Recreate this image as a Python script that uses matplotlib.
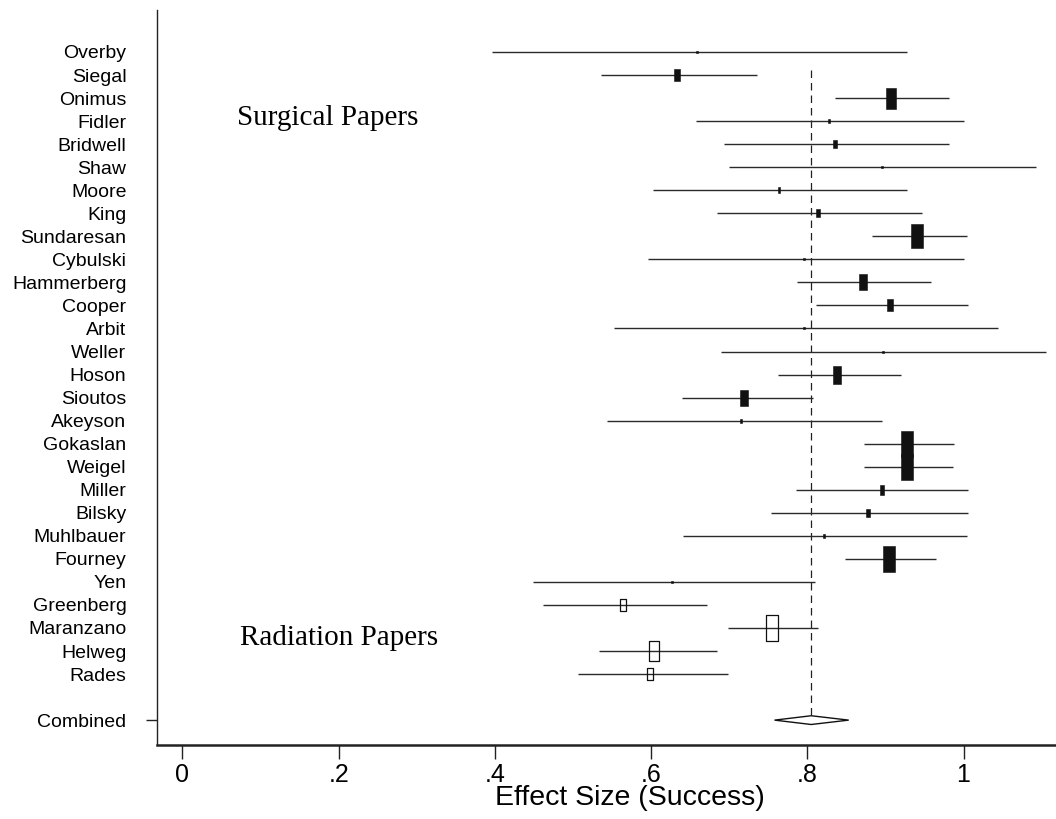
import matplotlib
matplotlib.use("Agg")
import matplotlib.pyplot as plt
import numpy as np
from matplotlib.path import Path

# ---- data ----
studies = ["Overby", "Siegal", "Onimus", "Fidler", "Bridwell", "Shaw", "Moore",
           "King", "Sundaresan", "Cybulski", "Hammerberg", "Cooper", "Arbit",
           "Weller", "Hoson", "Sioutos", "Akeyson", "Gokaslan", "Weigel",
           "Miller", "Bilsky", "Muhlbauer", "Fourney", "Yen", "Greenberg",
           "Maranzano", "Helweg", "Rades"]
effect = [0.659, 0.633, 0.907, 0.828, 0.836, 0.895, 0.764, 0.814, 0.941, 0.796,
          0.871, 0.906, 0.796, 0.897, 0.838, 0.719, 0.715, 0.928, 0.927, 0.895,
          0.878, 0.822, 0.904, 0.627, 0.564, 0.755, 0.604, 0.599]
ci_low = [0.396, 0.536, 0.836, 0.658, 0.693, 0.700, 0.603, 0.684, 0.883, 0.596,
          0.787, 0.811, 0.552, 0.690, 0.763, 0.640, 0.543, 0.873, 0.873, 0.786,
          0.753, 0.641, 0.848, 0.449, 0.461, 0.699, 0.533, 0.506]
ci_high = [0.928, 0.736, 0.982, 1.001, 0.981, 1.093, 0.928, 0.947, 1.004, 1.001,
           0.959, 1.006, 1.044, 1.106, 0.920, 0.807, 0.895, 0.988, 0.986, 1.006,
           1.006, 1.004, 0.965, 0.810, 0.672, 0.814, 0.685, 0.698]
weights = [0.04, 1.53, 4.0, 0.15, 0.73, 0.08, 0.23, 0.73, 5.2, 0.08,
           2.3, 1.53, 0.08, 0.08, 2.9, 2.6, 0.15, 5.7, 5.7, 0.9,
           0.58, 0.15, 5.7, 0.08, 1.3, 6.1, 3.3, 1.53]
group = ["Surgical"] * 24 + ["Radiation"] * 4
combined_label = "Combined"
combined_est, combined_low, combined_high = 0.805, 0.758, 0.853
xticks = [0, 0.2, 0.4, 0.6, 0.8, 1.0]
xticklabels = ["0", ".2", ".4", ".6", ".8", "1"]
xlabel = "Effect Size (Success)"

# ---- figure ----
fig = plt.figure(figsize=(10.56, 8.19), dpi=100)
ax = fig.add_axes([157 / 1056, 1 - 745 / 819, 1 - 157 / 1056, (745 - 10) / 819])

n = len(studies)
ypos = np.arange(n)
ycomb = n + 1

box = Path([(-0.25, -0.5), (0.25, -0.5), (0.25, 0.5), (-0.25, 0.5), (-0.25, -0.5)],
           [Path.MOVETO, Path.LINETO, Path.LINETO, Path.LINETO, Path.CLOSEPOLY])

line_col = "#2a2a2a"
for i in range(n):
    ax.plot([ci_low[i], ci_high[i]], [ypos[i], ypos[i]], color=line_col, lw=1.0,
            solid_capstyle="butt", zorder=2)
    h_px = 10.5 * np.sqrt(weights[i])
    ms = max(h_px, 2.5) * 72 / 100
    if group[i] == "Surgical":
        ax.plot(effect[i], ypos[i], marker=box, markersize=ms, color="#111111",
                markeredgewidth=0.4, zorder=3)
    else:
        ax.plot(effect[i], ypos[i], marker=box, markersize=ms,
                markerfacecolor="none", markeredgecolor="#111111",
                markeredgewidth=0.9, zorder=3)

# dashed line at combined estimate
ax.plot([combined_est, combined_est], [0.78, ycomb], color="#222222", lw=0.9,
        ls=(0, (6, 4)), zorder=1)

# combined diamond
dh = 0.19
ax.fill([combined_low, combined_est, combined_high, combined_est],
        [ycomb, ycomb - dh, ycomb, ycomb + dh], facecolor="white",
        edgecolor="#111111", lw=1.0, zorder=4)

# group labels
ax.text(0.070, 3.17, "Surgical Papers", family="Liberation Serif", fontsize=21,
        va="baseline", ha="left")
ax.text(0.074, 25.74, "Radiation Papers", family="Liberation Serif", fontsize=21,
        va="baseline", ha="left")

# axes
ax.set_xlim(-0.0326, 1.1184)
ax.set_ylim(30.08, -1.823)
ax.spines["top"].set_visible(False)
ax.spines["right"].set_visible(False)
ax.spines["left"].set_linewidth(1.0)
ax.spines["bottom"].set_linewidth(1.8)
ax.spines["left"].set_color("#222222")
ax.spines["bottom"].set_color("#222222")

ax.set_xticks(xticks)
ax.set_xticklabels(xticklabels, family="Liberation Sans", fontsize=18)
ax.tick_params(axis="x", length=10, width=1.0, pad=3, color="#222222")

ax.set_yticks(list(ypos) + [ycomb])
ax.set_yticklabels(studies + [combined_label], family="Liberation Sans", fontsize=14)
ax.tick_params(axis="y", length=8, width=1.0, pad=14, color="#222222")
for t in ax.yaxis.get_major_ticks()[:-1]:
    t.tick1line.set_visible(False)

ax.set_xlabel(xlabel, family="Liberation Sans", fontsize=20.5, labelpad=0)
ax.xaxis.set_label_coords((630 - 157) / (1056 - 157), -0.055)

fig.savefig("out.png", dpi=100)
